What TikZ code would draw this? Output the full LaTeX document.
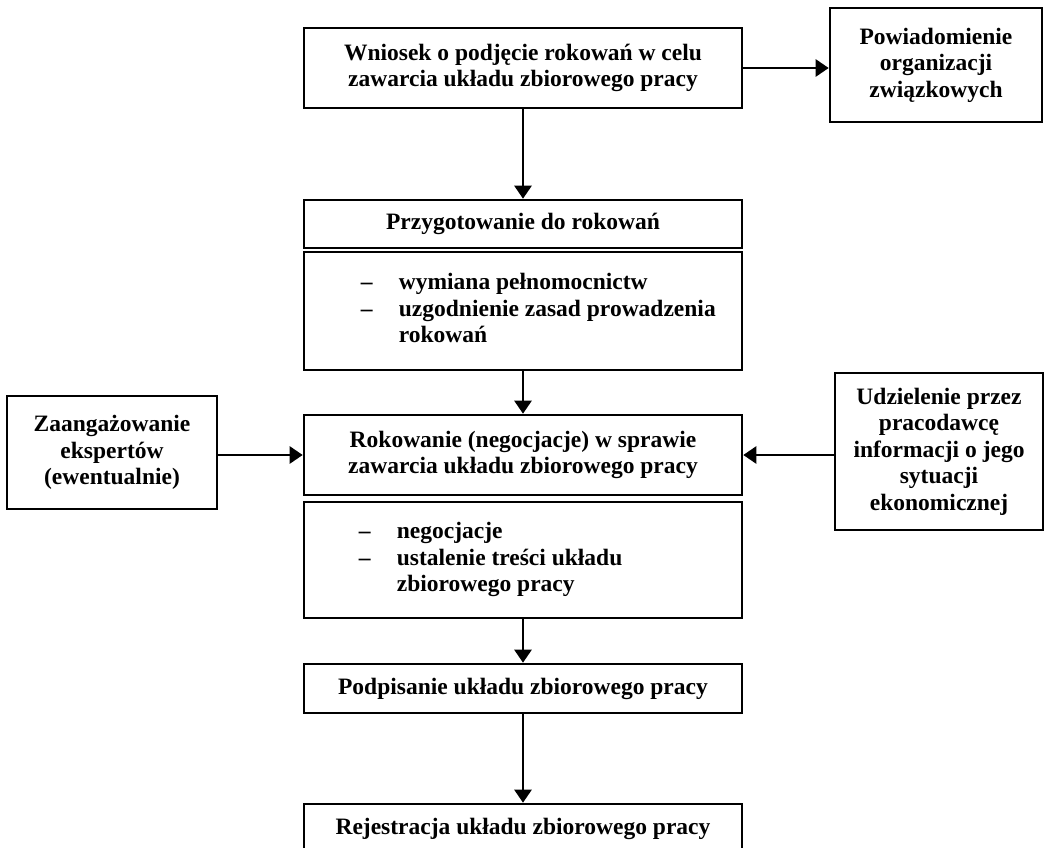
\documentclass[tikz,border=0pt]{standalone}
\usepackage{fontspec}
\setmainfont{Liberation Serif}
\usetikzlibrary{arrows.meta}
\begin{document}
\begin{tikzpicture}[x=1pt,y=-1pt,
  font=\fontsize{23.5}{26.5}\selectfont\bfseries,
  box/.style={draw, line width=2.6pt, rectangle, inner sep=0pt, align=center},
  mainbox/.style={box, minimum width=438pt},
  listtext/.style={inner sep=0pt, anchor=west, align=left},
  flow/.style={line width=2.6pt, -{Triangle[length=13pt,width=17pt]}}]
\useasboundingbox (0,0) rectangle (1044,848);
\clip (0,0) rectangle (1044,848);

% main column
\node[mainbox, minimum height=80pt] (wniosek) at (523,68)
  {Wniosek o podjęcie rokowań w celu\\zawarcia układu zbiorowego pracy};
\node[mainbox, minimum height=48pt] (przyg) at (523,224)
  {Przygotowanie do rokowań};
\node[mainbox, minimum height=118pt] (lista1) at (523,311) {};
\node[listtext] (lista1t) at ([xshift=58pt]lista1.west)
  {\begin{tabular}{@{}p{38pt}@{}l@{}}
   –& wymiana pełnomocnictw\\
   –& uzgodnienie zasad prowadzenia\\
    & rokowań
   \end{tabular}};
\node[mainbox, minimum height=80pt] (rokow) at (523,455)
  {Rokowanie (negocjacje) w sprawie\\zawarcia układu zbiorowego pracy};
\node[mainbox, minimum height=116pt] (lista2) at (523,560) {};
\node[listtext] (lista2t) at ([xshift=56pt]lista2.west)
  {\begin{tabular}{@{}p{38pt}@{}l@{}}
   –& negocjacje\\
   –& ustalenie treści układu\\
    & zbiorowego pracy
   \end{tabular}};
\node[mainbox, minimum height=49pt] (podp) at (523,688.5)
  {Podpisanie układu zbiorowego pracy};
\node[mainbox, minimum height=60pt] (rejestr) at (523,834)
  {\raisebox{0pt}[0pt][0pt]{Rejestracja układu zbiorowego pracy}};

% side boxes
\node[box, minimum width=212pt, minimum height=114pt] (powiad) at (936,65)
  {Powiadomienie\\organizacji\\związkowych};
\node[box, minimum width=210pt, minimum height=113pt] (eksp) at (112,452.5)
  {Zaangażowanie\\ekspertów\\(ewentualnie)};
\node[box, minimum width=208pt, minimum height=157pt] (inform) at (939,451.5)
  {Udzielenie przez\\pracodawcę\\informacji o jego\\sytuacji\\ekonomicznej};

% connectors
\draw[flow] (wniosek.east) -- (wniosek.east -| powiad.west);
\draw[flow] (wniosek.south) -- (przyg.north);
\draw[flow] (lista1.south) -- (rokow.north);
\draw[flow] (rokow.west -| eksp.east) -- (rokow.west);
\draw[flow] (rokow.east -| inform.west) -- (rokow.east);
\draw[flow] (lista2.south) -- (podp.north);
\draw[flow] (podp.south) -- (rejestr.north);
\end{tikzpicture}
\end{document}
